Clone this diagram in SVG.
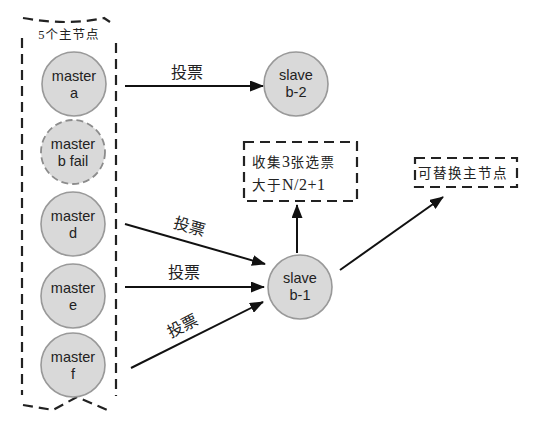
<svg xmlns="http://www.w3.org/2000/svg" width="551" height="433" viewBox="0 0 551 433">
<style>
.node circle{fill:#d9d9d9;stroke:#999;stroke-width:1.6}
.node text{font-family:"Liberation Sans",Arial,sans-serif;font-size:14.5px;fill:#222;text-anchor:middle}
.fail circle{stroke-dasharray:7 4;stroke:#8c8c8c;stroke-width:1.8}
.conn line{stroke:#111;stroke-width:2;marker-end:url(#ah)}
.lbl{font-family:"Noto Sans CJK SC","Noto Sans",sans-serif;font-size:16px;fill:#222;text-anchor:middle}
.dash{fill:none;stroke:#222;stroke-width:2.2;stroke-dasharray:10 6}
.note{font-family:"Liberation Serif","Noto Sans CJK SC",serif;font-size:13.5px;fill:#222;letter-spacing:1.5px}
.big{font-size:16px;letter-spacing:0.5px}
</style>
<defs>
<marker id="ah" markerWidth="14" markerHeight="11" refX="13" refY="5.5" orient="auto" markerUnits="userSpaceOnUse">
<path d="M0,0 L14,5.5 L0,11 Z" fill="#111"/>
</marker>
</defs>
<rect width="551" height="433" fill="#fff"/>
<g id="group-masters">
<path class="dash" d="M23,18 Q68,26 104,18 L110,22"/>
<path class="dash" d="M22,38 L22,395"/>
<path class="dash" d="M116,43 L116,396"/>
<path class="dash" d="M23,405 L53,410 L77,397 L112,412"/>
<text x="69" y="39" style="font-family:'Liberation Serif','Noto Sans CJK SC',serif;font-size:12.5px;fill:#222;text-anchor:middle;letter-spacing:1px">5个主节点</text>
</g>
<g id="master-a" class="node"><circle cx="74" cy="84" r="32"/><text x="74" y="81">master</text><text x="74" y="98">a</text></g>
<g id="master-b" class="node fail"><circle cx="73" cy="152" r="32"/><text x="73" y="149">master</text><text x="73" y="166">b fail</text></g>
<g id="master-d" class="node"><circle cx="73" cy="224" r="32"/><text x="73" y="221">master</text><text x="73" y="238">d</text></g>
<g id="master-e" class="node"><circle cx="73" cy="296" r="32"/><text x="73" y="293">master</text><text x="73" y="310">e</text></g>
<g id="master-f" class="node"><circle cx="73" cy="365" r="32"/><text x="73" y="362">master</text><text x="73" y="379">f</text></g>
<g id="slave-b2" class="node"><circle cx="296" cy="84" r="32"/><text x="296" y="80">slave</text><text x="296" y="97">b-2</text></g>
<g id="slave-b1" class="node"><circle cx="300" cy="287" r="32"/><text x="300" y="283">slave</text><text x="300" y="300">b-1</text></g>
<g id="note-votes">
<rect class="dash" x="244" y="142" width="113" height="59"/>
<text class="note" x="252" y="167">收集<tspan class="big">3</tspan>张选票</text>
<text class="note" x="252" y="190">大于<tspan class="big">N/2+1</tspan></text>
</g>
<g id="note-replace">
<rect class="dash" x="415" y="158" width="102" height="29"/>
<text class="note" x="418" y="178">可替换主节点</text>
</g>
<g id="connectors" class="conn">
<line x1="125" y1="86" x2="263" y2="86"/>
<line x1="125" y1="224" x2="265" y2="264"/>
<line x1="125" y1="287" x2="264" y2="287"/>
<line x1="131" y1="368" x2="263" y2="302"/>
<line x1="297" y1="253" x2="297" y2="205"/>
<line x1="340" y1="270" x2="443" y2="197"/>
</g>
<g id="connector-labels">
<text class="lbl" x="187" y="78">投票</text>
<text class="lbl" x="0" y="0" transform="translate(188,232) rotate(16)">投票</text>
<text class="lbl" x="184" y="278">投票</text>
<text class="lbl" x="0" y="0" transform="translate(185,331) rotate(-27)">投票</text>
</g>
</svg>
